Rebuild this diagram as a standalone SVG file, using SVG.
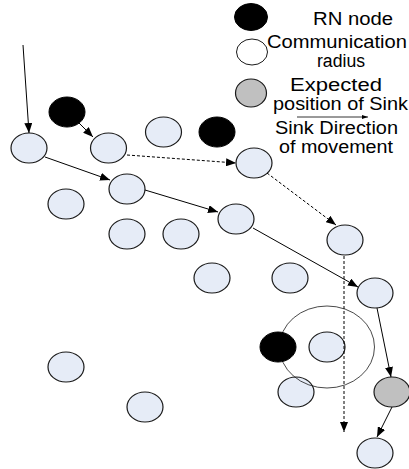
<svg xmlns="http://www.w3.org/2000/svg" width="409" height="469" viewBox="0 0 409 469">
<defs>
<marker id="ah" markerUnits="userSpaceOnUse" markerWidth="10" markerHeight="8" refX="10" refY="4" orient="auto"><path d="M0,0 L10,4 L0,8 z" fill="#000"/></marker>
<marker id="ahs" markerUnits="userSpaceOnUse" markerWidth="6" markerHeight="4" refX="6" refY="2" orient="auto"><path d="M0,0 L6,2 L0,4 z" fill="#000"/></marker>
<style>
.n{fill:#E6ECF7;stroke:#1a1a1a;stroke-width:1.2}
.b{fill:#000;stroke:#000;stroke-width:1}
.g{fill:#C0C0C0;stroke:#1a1a1a;stroke-width:1.2}
.w{fill:#fff;stroke:#1a1a1a;stroke-width:1}
.s{fill:none;stroke:#000;stroke-width:1;marker-end:url(#ah)}
.d{fill:none;stroke:#000;stroke-width:1;stroke-dasharray:3,2;marker-end:url(#ah)}
.t{font-family:"Liberation Sans",Arial,sans-serif;font-size:18px;fill:#000}
</style>
</defs>
<g id="legend">
<ellipse class="b" cx="251" cy="17" rx="16.5" ry="13.5"/>
<ellipse class="w" cx="252" cy="52" rx="15.5" ry="13"/>
<ellipse class="g" cx="251" cy="93" rx="15.5" ry="14"/>
<text class="t" x="313" y="25" textLength="80" lengthAdjust="spacingAndGlyphs">RN node</text>
<text class="t" x="267" y="48" textLength="140" lengthAdjust="spacingAndGlyphs">Communication</text>
<text class="t" x="317" y="67" textLength="48" lengthAdjust="spacingAndGlyphs">radius</text>
<text class="t" x="290" y="91" textLength="92" lengthAdjust="spacingAndGlyphs">Expected</text>
<text class="t" x="273" y="110" textLength="135" lengthAdjust="spacingAndGlyphs">position of Sink</text>
<line x1="297" y1="117" x2="368" y2="117" stroke="#000" stroke-width="0.8" marker-end="url(#ahs)"/>
<text class="t" x="275" y="134" textLength="123" lengthAdjust="spacingAndGlyphs">Sink Direction</text>
<text class="t" x="279" y="153" textLength="114" lengthAdjust="spacingAndGlyphs">of movement</text>
</g>
<g id="nodes">
<g id="n1"><ellipse class="n" cx="29" cy="148" rx="18" ry="15"/></g>
<g id="rn1"><ellipse class="b" cx="67" cy="112" rx="18" ry="15"/></g>
<g id="n2"><ellipse class="n" cx="108.5" cy="148" rx="18" ry="15"/></g>
<g id="n3"><ellipse class="n" cx="163.5" cy="132" rx="18" ry="15"/></g>
<g id="rn2"><ellipse class="b" cx="217" cy="132" rx="18" ry="15"/></g>
<g id="n4"><ellipse class="n" cx="254" cy="163" rx="18" ry="15"/></g>
<g id="n5"><ellipse class="n" cx="127" cy="189" rx="18" ry="15"/></g>
<g id="n6"><ellipse class="n" cx="66" cy="204" rx="18" ry="15"/></g>
<g id="n7"><ellipse class="n" cx="236" cy="219" rx="18" ry="15"/></g>
<g id="n8"><ellipse class="n" cx="127" cy="234" rx="18" ry="15"/></g>
<g id="n9"><ellipse class="n" cx="181" cy="234" rx="18" ry="15"/></g>
<g id="n10"><ellipse class="n" cx="345" cy="240" rx="18" ry="15"/></g>
<g id="n11"><ellipse class="n" cx="212" cy="278" rx="18" ry="15"/></g>
<g id="n12"><ellipse class="n" cx="290" cy="278" rx="18" ry="15"/></g>
<g id="n13"><ellipse class="n" cx="375" cy="293" rx="18" ry="15"/></g>
<g id="n14"><ellipse class="n" cx="327" cy="347" rx="18" ry="15"/></g>
<g id="n15"><ellipse class="n" cx="296" cy="392" rx="18" ry="15"/></g>
<g id="radius"><ellipse cx="327" cy="347" rx="47.5" ry="41" fill="none" stroke="#1a1a1a" stroke-width="0.8"/></g>
<g id="rn3"><ellipse class="b" cx="278" cy="347" rx="18" ry="15"/></g>
<g id="sink"><ellipse class="g" cx="392" cy="392" rx="18" ry="15"/></g>
<g id="n16"><ellipse class="n" cx="66" cy="367" rx="18" ry="15"/></g>
<g id="n17"><ellipse class="n" cx="145" cy="407" rx="18" ry="15"/></g>
<g id="n18"><ellipse class="n" cx="375" cy="453" rx="18" ry="15"/></g>
</g>
<g id="connectors">
<line class="s" x1="23" y1="45" x2="29" y2="133"/>
<line class="s" x1="79" y1="123" x2="93" y2="137"/>
<line class="s" x1="45" y1="157" x2="110" y2="180"/>
<line class="s" x1="145" y1="190" x2="218" y2="212"/>
<line class="s" x1="253" y1="228" x2="358" y2="287"/>
<line class="s" x1="377" y1="308" x2="391" y2="377"/>
<line class="s" x1="392" y1="407" x2="377" y2="437"/>
<line class="d" x1="127" y1="155" x2="236" y2="163"/>
<line class="d" x1="267" y1="173" x2="336" y2="225"/>
<line class="d" x1="344" y1="256" x2="344" y2="432"/>
</g>
</svg>
